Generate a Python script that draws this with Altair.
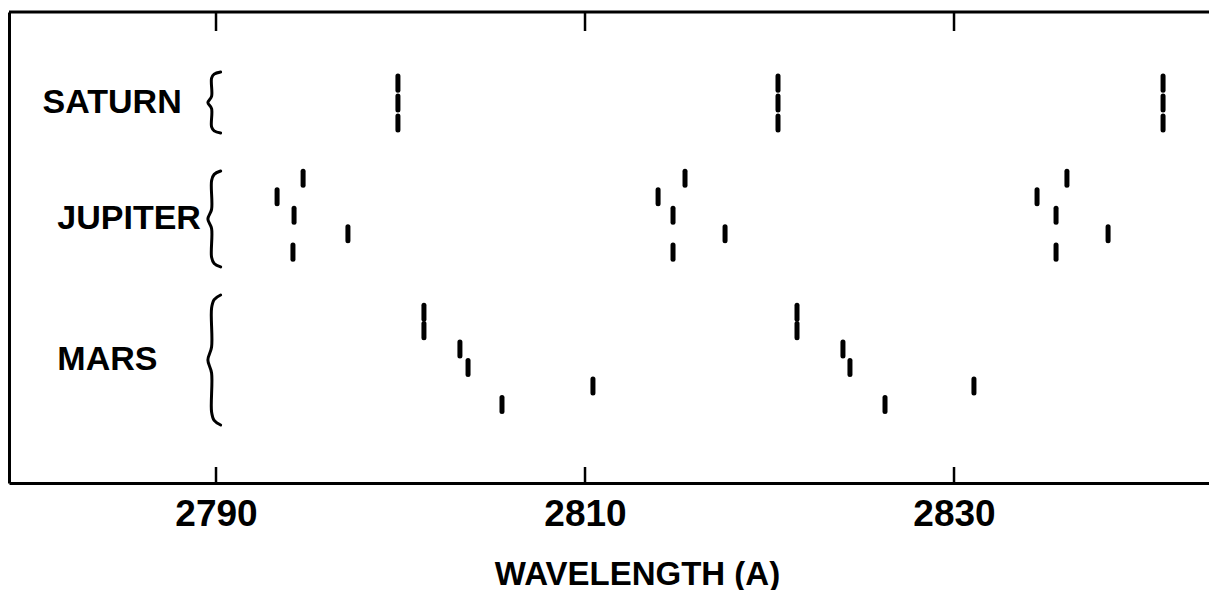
import altair as alt
import pandas as pd

# ---- data -------------------------------------------------------------
PLANETS = ["SATURN", "JUPITER", "MARS"]

# wavelengths (Å) of the marked features, one list per row of each group
SATURN_ROWS = [
    [2799.86, 2820.46, 2841.33],
    [2799.86, 2820.46, 2841.33],
    [2799.86, 2820.46, 2841.33],
]
JUPITER_ROWS = [
    [2794.72, 2815.42, 2836.12],
    [2793.31, 2813.96, 2834.50],
    [2794.23, 2814.77, 2835.53],
    [2797.15, 2817.59, 2838.35],
    [2794.17, 2814.77, 2835.53],
]
MARS_ROWS = [
    [2801.27, 2821.49],
    [2801.27, 2821.49],
    [2803.22, 2823.98],
    [2803.66, 2824.36],
    [2810.43, 2831.08],
    [2805.50, 2826.26],
]

# vertical slot of each row (row units counted from the top of the frame)
SATURN_SLOTS = [3.85, 4.93, 6.01]
JUPITER_SLOTS = [9, 10, 11, 12, 13]
MARS_SLOTS = [16.25, 17.25, 18.25, 19.25, 20.25, 21.25]

# extent of the curly bracket next to each planet name
BRACE_TOP = [3.25, 8.61, 15.32]
BRACE_BOTTOM = [6.55, 13.8, 22.36]
LABEL_X = [2780.6, 2781.4, 2781.4]

X_TICKS = [2790, 2810, 2830]
X_DOMAIN = [2778.78, 2843.82]
Y_DOMAIN = [0, 25.5]

# bracket outline: fraction down the span and sideways offset (Å) from the stem
BRACE_STEM = 2789.76
BRACE_T = [0, 0.035, 0.10, 0.40, 0.50, 0.60, 0.90, 0.965, 1]
BRACE_DX = [0.49, 0.14, 0, 0, -0.2, 0, 0, 0.14, 0.49]

HALF = 0.38  # half length of a feature bar, in row units

FONT = "Liberation Sans, Arial, sans-serif"

# ---- tables -----------------------------------------------------------
rows = []
for planet, row_lists, slots in [
    ("SATURN", SATURN_ROWS, SATURN_SLOTS),
    ("JUPITER", JUPITER_ROWS, JUPITER_SLOTS),
    ("MARS", MARS_ROWS, MARS_SLOTS),
]:
    for wls, slot in zip(row_lists, slots):
        for wl in wls:
            rows.append({"planet": planet, "wl": wl,
                         "y_lo": slot - HALF, "y_hi": slot + HALF})
lines_df = pd.DataFrame(rows)

brace_rows = []
for planet, top, bot in zip(PLANETS, BRACE_TOP, BRACE_BOTTOM):
    for k, (t, dx) in enumerate(zip(BRACE_T, BRACE_DX)):
        brace_rows.append({"planet": planet, "k": k,
                           "bx": BRACE_STEM + dx, "by": top + t * (bot - top)})
brace_df = pd.DataFrame(brace_rows)

label_df = pd.DataFrame({
    "planet": PLANETS,
    "lx": LABEL_X,
    "ly": [(a + b) / 2 for a, b in zip(BRACE_TOP, BRACE_BOTTOM)],
})
ticks_df = pd.DataFrame({"wl": X_TICKS})

# ---- scales & axes ----------------------------------------------------
xscale = alt.Scale(domain=X_DOMAIN, nice=False, zero=False)
yscale = alt.Scale(domain=Y_DOMAIN, nice=False, zero=False, reverse=True)

xaxis = alt.Axis(
    values=X_TICKS, format="d", grid=False, ticks=False,
    domainColor="black", domainWidth=3,
    labelFont=FONT, labelFontSize=37, labelFontWeight="bold",
    labelColor="black", labelPadding=13, labelFlush=False,
    title="WAVELENGTH (A)", titleFont=FONT, titleFontSize=33,
    titleFontWeight="bold", titleColor="black",
    titleX=628, titleY=101, titleBaseline="alphabetic",
)
yaxis = alt.Axis(labels=False, ticks=False, grid=False, title="",
                 domainColor="black", domainWidth=3)

X = lambda f: alt.X(f, scale=xscale, axis=xaxis)
Y = lambda f: alt.Y(f, scale=yscale, axis=yaxis)

# ---- layers -----------------------------------------------------------
bars = alt.Chart(lines_df).mark_rule(
    color="black", strokeWidth=5, strokeCap="round"
).encode(x=X("wl:Q"), y=Y("y_lo:Q"), y2="y_hi:Q")

braces = alt.Chart(brace_df).mark_line(
    color="black", strokeWidth=3, interpolate="catmull-rom", strokeCap="round"
).encode(x=X("bx:Q"), y=Y("by:Q"), detail="planet:N", order="k:Q")

labels = alt.Chart(label_df).mark_text(
    align="left", baseline="middle", font=FONT, fontSize=34,
    fontWeight="bold", color="black"
).encode(x=X("lx:Q"), y=Y("ly:Q"), text="planet:N")

bottom_ticks = alt.Chart(ticks_df).mark_rule(color="black", strokeWidth=2.5).encode(
    x=X("wl:Q"), y=alt.value(455), y2=alt.value(471)
)
top_ticks = alt.Chart(ticks_df).mark_rule(color="black", strokeWidth=2.5).encode(
    x=X("wl:Q"), y=alt.value(0), y2=alt.value(19)
)
top_border = alt.Chart(pd.DataFrame({"a": [0]})).mark_rule(
    color="black", strokeWidth=3
).encode(x=alt.value(0), x2=alt.value(1200), y=alt.value(0))

chart = alt.layer(
    top_border, bottom_ticks, top_ticks, braces, bars, labels
).properties(
    width=1200, height=471,
    autosize=alt.AutoSizeParams(type="none"),
    padding={"left": 9, "top": 12, "right": 0, "bottom": 107},
    background="white",
).configure_view(stroke=None)

chart.save("out.html", embed_options={"renderer": "svg", "actions": False})
